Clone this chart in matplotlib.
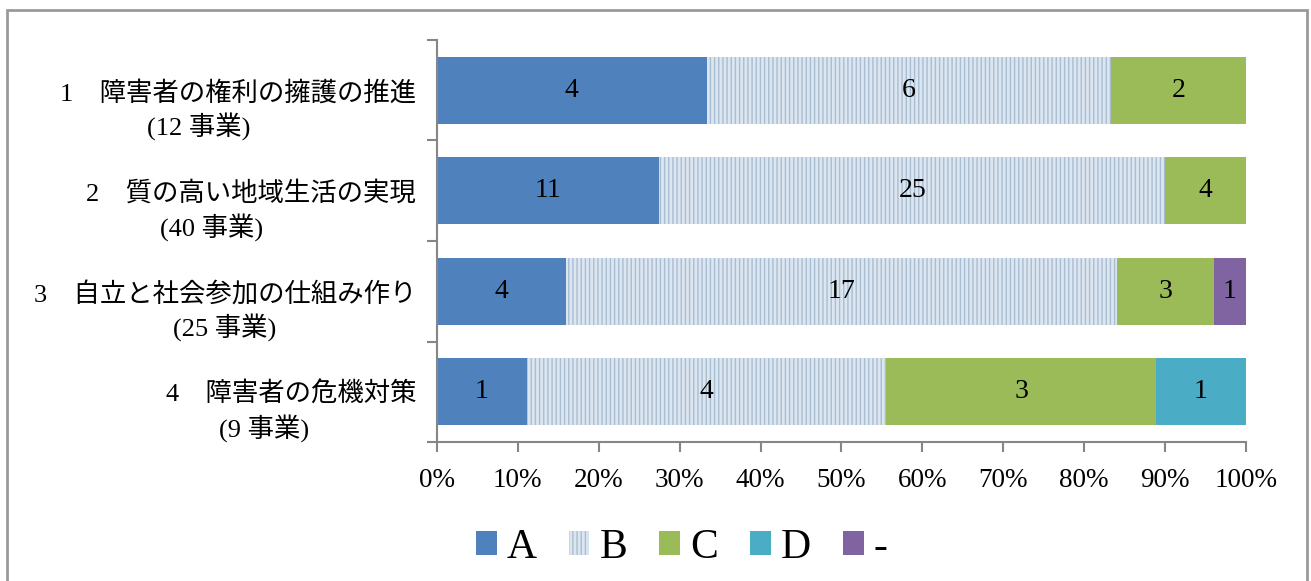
import matplotlib.pyplot as plt
from matplotlib.patches import Rectangle
from matplotlib.ticker import PercentFormatter
import numpy

plt.rcParams['font.family'] = ['Liberation Serif', 'Noto Sans CJK JP']

# evaluation counts per policy area (top to bottom)
categories = ['1　障害者の権利の擁護の推進\n(12 事業)\u3000\u3000\u3000',
              '2　質の高い地域生活の実現\n(40 事業)\u3000\u3000\u3000',
              '3　自立と社会参加の仕組み作り\n(25 事業)',
              '4　障害者の危機対策\n(9 事業)\u3000\u3000']
grades = ['A', 'B', 'C', 'D', '-']
countA = [4, 11, 4, 1]
countB = [6, 25, 17, 4]
countC = [2, 4, 3, 3]
countD = [0, 0, 0, 1]
countDash = [0, 0, 1, 0]

colors = ['#4f81bd', '#dce6f1', '#9bbb59', '#4bacc6', '#8064a2']
hatches = [None, '||||', None, None, None]

counts = numpy.array([countA, countB, countC, countD, countDash], dtype=float)
totals = counts.sum(axis=0)
shares = counts / totals

fig = plt.figure(figsize=(13.11, 5.81), dpi=100)
ax = fig.add_axes([0.3333, 0.2392, 0.6171, 0.6920])

y = numpy.arange(len(categories))
left = numpy.zeros(len(categories))
handles = []
for k in range(len(grades)):
    if hatches[k]:
        bars = ax.barh(y, shares[k], left=left, height=0.665, color=colors[k],
                       hatch=hatches[k], edgecolor='#a9bdd1', linewidth=0, label=grades[k])
    else:
        bars = ax.barh(y, shares[k], left=left, height=0.665, color=colors[k],
                       linewidth=0, label=grades[k])
    handles.append(bars)
    for i in range(len(categories)):
        if counts[k][i] > 0:
            ax.text(left[i] + shares[k][i] / 2, y[i], '%d' % counts[k][i],
                    ha='center', va='center', fontsize=20, color='black')
    left += shares[k]

ax.set_xlim(0, 1)
ax.set_ylim(len(categories) - 0.5, -0.5)
ax.xaxis.set_major_formatter(PercentFormatter(1.0, decimals=0))
ax.set_xticks(numpy.arange(0, 1.01, 0.1))
ax.set_yticks(y)
# blank first line keeps the title line level with the bar centre
ax.set_yticklabels([' \n' + c for c in categories], fontsize=19,
                   multialignment='center', linespacing=1.3)
ax.set_yticks(numpy.arange(-0.5, len(categories), 1), minor=True)
ax.tick_params(axis='y', which='major', length=0, pad=15)
ax.tick_params(axis='y', which='minor', length=7, width=1.5, color='#868686', direction='out')
ax.tick_params(axis='x', length=7, width=1.5, color='#868686', direction='out',
               labelsize=19.5, pad=12)
for s in ['top', 'right']:
    ax.spines[s].set_visible(False)
for s in ['left', 'bottom']:
    ax.spines[s].set_color('#868686')
    ax.spines[s].set_linewidth(1.5)

fig.legend(handles=handles, labels=grades, loc='center', bbox_to_anchor=(0.52, 0.057),
           ncol=5, frameon=False, fontsize=30, handlelength=0.5, handleheight=0.5,
           handletextpad=0.24, columnspacing=0.77)

# outer frame of the chart area
fig.patches.append(Rectangle((0.0053, -0.01), 0.9916, 0.993, transform=fig.transFigure,
                             fill=False, edgecolor='#9a9a9a', linewidth=2))

fig.savefig('out.png', dpi=100)
